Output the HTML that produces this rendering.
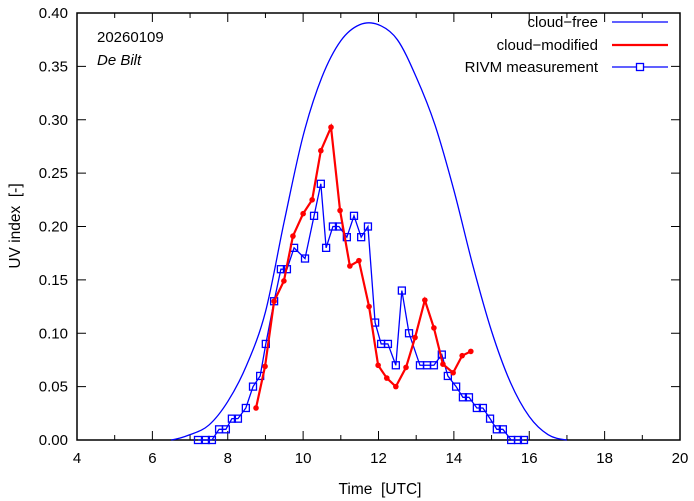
<!DOCTYPE html>
<html><head><meta charset="utf-8"><style>
body{margin:0;background:#fff}
svg{display:block;font-family:"Liberation Sans",sans-serif}
</style></head><body>
<svg id="c" width="694" height="501"></svg>
<script>
const xTicks=[4,6,8,10,12,14,16,18,20];
const yTicks=[0,0.05,0.10,0.15,0.20,0.25,0.30,0.35,0.40];
const clearT=[6.0,6.5,7,7.5,8,8.5,9,9.5,10,10.5,11,11.5,12,12.5,13,13.5,14,14.5,15,15.5,16,16.5,17,17.5];
const clearV=[0,0,0.005,0.014,0.036,0.07,0.12,0.205,0.285,0.34,0.374,0.389,0.389,0.375,0.340,0.295,0.234,0.164,0.102,0.054,0.022,0.005,0,0];
const redT=[8.75,8.99,9.23,9.49,9.73,10.0,10.24,10.47,10.74,10.98,11.24,11.48,11.75,11.99,12.22,12.46,12.73,12.97,13.23,13.47,13.71,13.98,14.22,14.45];
const redV=[0.030,0.069,0.130,0.149,0.191,0.212,0.225,0.271,0.293,0.215,0.163,0.168,0.125,0.070,0.058,0.050,0.068,0.096,0.131,0.105,0.071,0.063,0.079,0.083];
const blueT=[7.21,7.42,7.58,7.77,7.95,8.11,8.27,8.48,8.67,8.86,9.01,9.23,9.41,9.57,9.76,10.05,10.29,10.47,10.61,10.79,10.95,11.16,11.35,11.54,11.72,11.91,12.07,12.25,12.46,12.62,12.81,13.10,13.29,13.47,13.68,13.84,14.06,14.24,14.40,14.61,14.77,14.96,15.14,15.30,15.52,15.70,15.86];
const blueV=[0,0,0,0.01,0.01,0.02,0.02,0.03,0.05,0.06,0.09,0.13,0.16,0.16,0.18,0.17,0.21,0.24,0.18,0.20,0.20,0.19,0.21,0.19,0.20,0.11,0.09,0.09,0.07,0.14,0.10,0.07,0.07,0.07,0.08,0.06,0.05,0.04,0.04,0.03,0.03,0.02,0.01,0.01,0,0,0];

const L=77,R=680,T=13,B=440;
const X=t=>L+(t-4)/16*(R-L);
const Y=v=>B-v/0.4*(B-T);
const NS="http://www.w3.org/2000/svg";
const svg=document.getElementById('c');
function mk(tag,attrs,parent){const e=document.createElementNS(NS,tag);for(const k in attrs)e.setAttribute(k,attrs[k]);(parent||svg).appendChild(e);return e;}

const fr=mk('rect',{x:L,y:T,width:R-L,height:B-T,fill:'none',stroke:'#000','stroke-width':1.5});



for(let h=4;h<=20;h++){
  const x=X(h),len=(h%2==0)?9:5;
  mk('line',{x1:x,x2:x,y1:B,y2:B-len,stroke:'#000'});
  mk('line',{x1:x,x2:x,y1:T,y2:T+len,stroke:'#000'});
}
xTicks.forEach(t=>{
  const e=mk('text',{x:X(t),y:B+23,'text-anchor':'middle','font-size':15});
  e.textContent=t;
  
  
});
yTicks.forEach(v=>{
  const y=Y(v);
  mk('line',{x1:L,x2:L+9,y1:y,y2:y,stroke:'#000'});
  mk('line',{x1:R,x2:R-9,y1:y,y2:y,stroke:'#000'});
  const e=mk('text',{x:L-9,y:y+5,'text-anchor':'end','font-size':15});
  e.textContent=v.toFixed(2);
  
  
});
const xl=mk('text',{x:380,y:494,'text-anchor':'middle','font-size':15.5});
xl.textContent='Time\u00a0\u00a0[UTC]';


const yl=mk('text',{x:20,y:226,'text-anchor':'middle','font-size':15.5,transform:'rotate(-90 20 226)'});
yl.textContent='UV index\u00a0\u00a0[-]';



const d1=mk('text',{x:97,y:42,'font-size':15});d1.textContent='20260109';


const d2=mk('text',{x:97,y:65,'font-size':15,'font-style':'italic'});d2.textContent='De Bilt';



const pts=clearT.map((t,i)=>[X(t),Y(clearV[i])]);
let d='M'+pts[1][0]+','+pts[1][1];
for(let i=1;i<pts.length-2;i++){
  const p0=pts[i-1],p1=pts[i],p2=pts[i+1],p3=pts[i+2];
  d+=' C'+(p1[0]+(p2[0]-p0[0])/6)+','+(p1[1]+(p2[1]-p0[1])/6)+' '+(p2[0]-(p3[0]-p1[0])/6)+','+(p2[1]-(p3[1]-p1[1])/6)+' '+p2[0]+','+p2[1];
}
const cf=mk('path',{d:d,fill:'none',stroke:'#0000ff','stroke-width':1.3});



const bl=mk('polyline',{points:blueT.map((t,i)=>X(t)+','+Y(blueV[i])).join(' '),fill:'none',stroke:'#0000ff','stroke-width':1.3});


blueT.forEach((t,i)=>{
  const r=mk('rect',{x:X(t)-3.5,y:Y(blueV[i])-3.5,width:7,height:7,fill:'none',stroke:'#0000ff','stroke-width':1.3});
  
  
});

const rl=mk('polyline',{points:redT.map((t,i)=>X(t)+','+Y(redV[i])).join(' '),fill:'none',stroke:'#ff0000','stroke-width':2.2});


redT.forEach((t,i)=>{
  const c=mk('circle',{cx:X(t),cy:Y(redV[i]),r:2.8,fill:'#ff0000'});
  
  
});

const leg=[['cloud\u2212free','#0000ff',1.3,false,22],['cloud\u2212modified','#ff0000',2.2,false,45],['RIVM measurement','#0000ff',1.3,true,67]];
leg.forEach(l=>{
  const g=mk('g',{});
  
  
  const tx=mk('text',{x:598,y:l[4]+5,'text-anchor':'end','font-size':15},g);tx.textContent=l[0];
  mk('line',{x1:612,x2:668,y1:l[4],y2:l[4],stroke:l[1],'stroke-width':l[2]},g);
  if(l[3]) mk('rect',{x:636.5,y:l[4]-3.5,width:7,height:7,fill:'#fff',stroke:l[1],'stroke-width':1.3},g);
});
</script>
</body></html>
